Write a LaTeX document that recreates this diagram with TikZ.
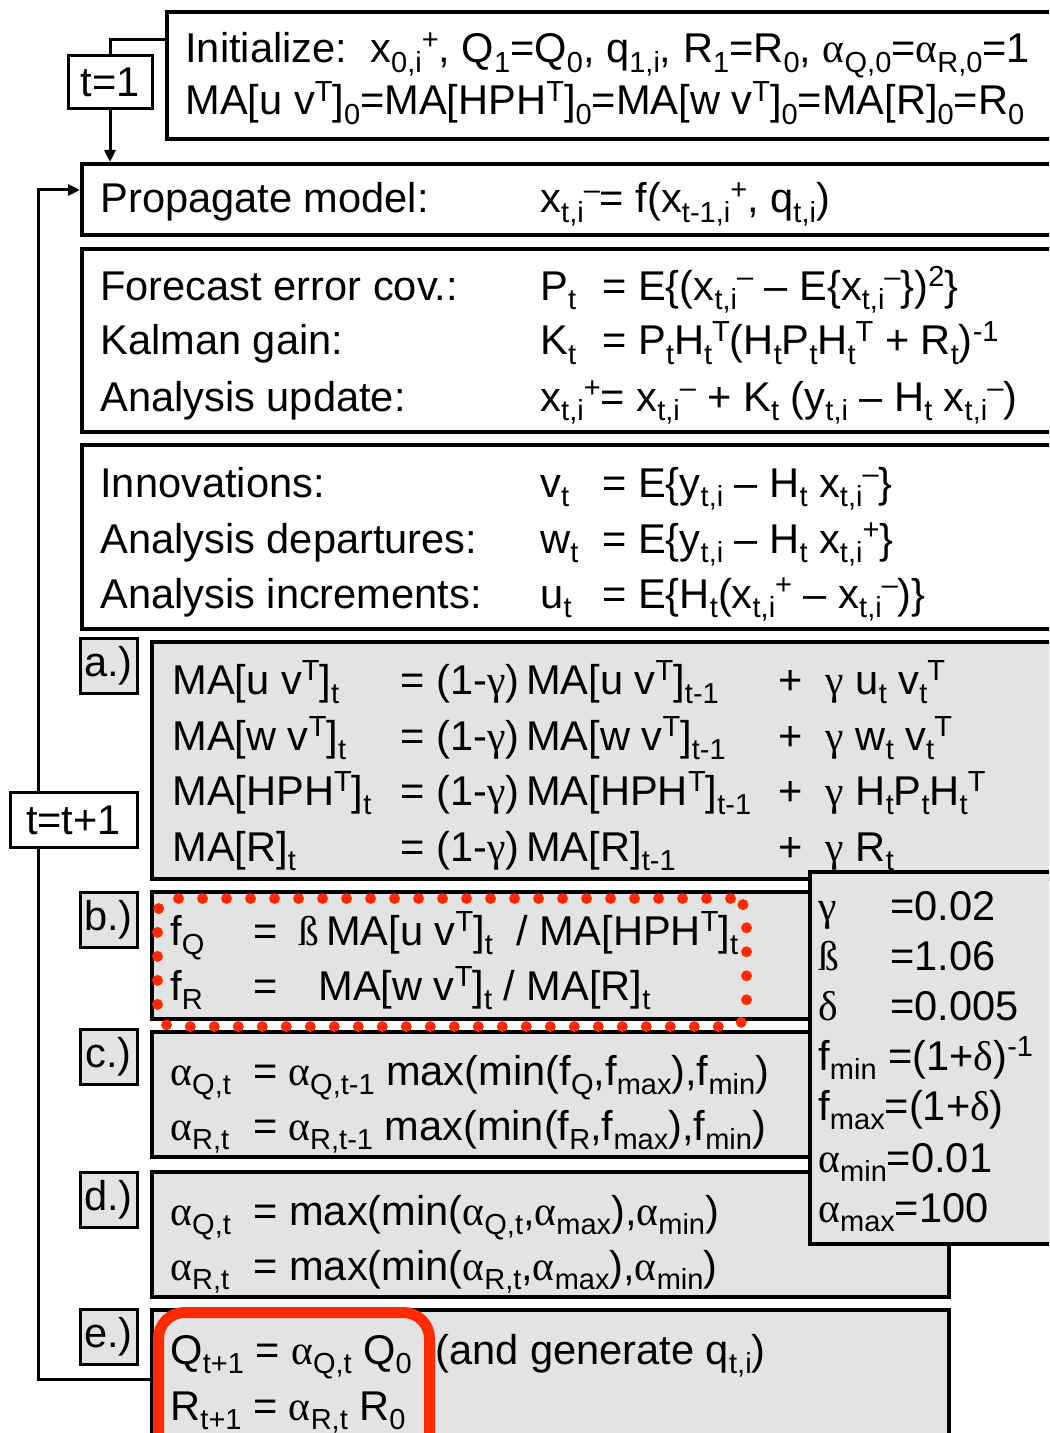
\documentclass[tikz,border=0pt]{standalone}
\usepackage{fontspec}
\setmainfont{Liberation Sans}
\newfontfamily\grk{Liberation Serif}
\usetikzlibrary{arrows.meta}
\definecolor{boxgray}{HTML}{E3E3E3}
\definecolor{hlred}{HTML}{FF2A00}
\newcommand\subfnt{\fontsize{14.5}{15}\selectfont}
\newcommand\xsb[1]{\raisebox{-0.22em}{\subfnt #1}}
\newcommand\xsp[1]{\raisebox{0.33em}{\subfnt #1}}
\newcommand\xsbp[2]{\xsb{#1}\xsp{#2}}
\newcommand\gA{{\grk α}}
\newcommand\gG{{\grk γ}}
\newcommand\gB{{\grk ß}}
\newcommand\gD{{\grk δ}}
\begin{document}
\begin{tikzpicture}[x=0.5pt,y=-0.5pt,
  txt/.style={anchor=base west, inner sep=0pt, font=\fontsize{20.8}{25}\selectfont},
  frame/.style={draw, line width=1.8pt, anchor=north west, inner sep=0pt},
  gframe/.style={frame, fill=boxgray},
  lab/.style={draw, line width=1.5pt, fill=boxgray, inner sep=0pt, minimum width=28.5pt, minimum height=27.5pt, font=\fontsize{20.8}{25}\selectfont},
  wlab/.style={lab, fill=white},
  conn/.style={line width=1.5pt},
  tip/.style={-{Triangle[length=6pt,width=5.5pt]}},
  dotbox/.style={draw=hlred, line width=5.5pt, line cap=round, dash pattern=on 0pt off 12pt, rounded corners=8pt, anchor=north west, inner sep=0pt},
  redbox/.style={draw=hlred, line width=5.5pt, rounded corners=13pt, anchor=north west, inner sep=0pt}
]
\useasboundingbox (0,0) rectangle (1049,1433);
\clip (0,0) rectangle (1049,1433);
\fill[white] (0,0) rectangle (1049,1433);

% frames
\node[frame, minimum width=447.5pt, minimum height=63.5pt] (init) at (165,10) {};
\node[frame, minimum width=490pt, minimum height=35.5pt] (prop) at (80,162) {};
\node[frame, minimum width=490pt, minimum height=91.5pt] (fc) at (80,247) {};
\node[frame, minimum width=490pt, minimum height=92pt] (inn) at (80,443) {};
\node[gframe, minimum width=455pt, minimum height=118.5pt] (aBox) at (150,640) {};
\node[gframe, minimum width=329pt, minimum height=63.5pt] (bBox) at (150,890) {};
\node[gframe, minimum width=329pt, minimum height=62.5pt] (cBox) at (150,1030) {};
\node[gframe, minimum width=398.5pt, minimum height=62.5pt] (dBox) at (150,1170) {};
\node[gframe, minimum width=398.5pt, minimum height=70pt] (eBox) at (150,1308) {};
\node[gframe, minimum width=130pt, minimum height=186pt] (par) at (808,870) {};

% labels
\node[lab] (la) at (108.5,666) {a.)};
\node[lab] (lb) at (108.5,920) {b.)};
\node[lab] (lc) at (108.5,1057) {c.)};
\node[lab] (ld) at (108.5,1200) {d.)};
\node[lab] (le) at (108.5,1337) {e.)};

% connectors
\node[wlab, minimum width=42pt, minimum height=26.5pt] (t1) at (110,82) {t=1};
\coordinate (initIn) at (165,40);
\draw[conn] (t1.north) |- (initIn);
\draw[conn,tip] (t1.south) -- (t1.south |- prop.north);
\coordinate (loopTop) at (38,190);
\draw[conn,tip] (eBox.west) -| (loopTop) -- (prop.west |- loopTop);
\node[wlab, minimum width=63.5pt, minimum height=27.5pt] (tt) at (73.5,820) {t=t+1};

% init text
\node[txt] (i1) at (185,63) {Initialize:\ \ x\xsbp{0,i}{+}, Q\xsb{1}=Q\xsb{0}, q\xsb{1,i}, R\xsb{1}=R\xsb{0}, \gA\xsb{Q,0}=\gA\xsb{R,0}=1};
\node[txt] (i2) at (185,115) {MA[u v\xsp{T}]\xsb{0}=MA[HPH\xsp{T}]\xsb{0}=MA[w v\xsp{T}]\xsb{0}=MA[R]\xsb{0}=R\xsb{0}};

% propagate
\node[txt] (p1) at (100,213) {Propagate model:};
\node[txt] (p2) at (540,213) {x\xsbp{t,i}{–}= f(x\xsbp{t-1,i}{+}, q\xsb{t,i})};

% forecast
\node[txt] (f1) at (100,300) {Forecast error cov.:};
\node[txt] (f2) at (100,355) {Kalman gain:};
\node[txt] (f3) at (100,411) {Analysis update:};
\node[txt] (f1a) at (540,300) {P\xsb{t}};
\node[txt] (f1b) at (602,300) {= E\{(x\xsbp{t,i}{–} – E\{x\xsbp{t,i}{–}\})\xsp{2}\}};
\node[txt] (f2a) at (540,355) {K\xsb{t}};
\node[txt] (f2b) at (602,355) {= P\xsb{t}H\xsbp{t}{T}(H\xsb{t}P\xsb{t}H\xsbp{t}{T} + R\xsb{t})\xsp{-1}};
\node[txt] (f3a) at (540,411) {x\xsbp{t,i}{+}= x\xsbp{t,i}{–} + K\xsb{t} (y\xsb{t,i} – H\xsb{t} x\xsbp{t,i}{–})};

% innovations
\node[txt] (n1) at (100,497) {Innovations:};
\node[txt] (n2) at (100,553) {Analysis departures:};
\node[txt] (n3) at (100,608) {Analysis increments:};
\node[txt] (n1a) at (540,497) {v\xsb{t}};
\node[txt] (n1b) at (602,497) {= E\{y\xsb{t,i} – H\xsb{t} x\xsbp{t,i}{–}\}};
\node[txt] (n2a) at (540,553) {w\xsb{t}};
\node[txt] (n2b) at (602,553) {= E\{y\xsb{t,i} – H\xsb{t} x\xsbp{t,i}{+}\}};
\node[txt] (n3a) at (540,608) {u\xsb{t}};
\node[txt] (n3b) at (602,608) {= E\{H\xsb{t}(x\xsbp{t,i}{+} – x\xsbp{t,i}{–})\}};

% a.)
\node[txt] (a1) at (172,694) {MA[u v\xsp{T}]\xsb{t}};
\node[txt] (a2) at (172,750) {MA[w v\xsp{T}]\xsb{t}};
\node[txt] (a3) at (172,805) {MA[HPH\xsp{T}]\xsb{t}};
\node[txt] (a4) at (172,861) {MA[R]\xsb{t}};
\node[txt] (a1b) at (400,694) {= (1-\gG)\,MA[u v\xsp{T}]\xsb{t-1}};
\node[txt] (a2b) at (400,750) {= (1-\gG)\,MA[w v\xsp{T}]\xsb{t-1}};
\node[txt] (a3b) at (400,805) {= (1-\gG)\,MA[HPH\xsp{T}]\xsb{t-1}};
\node[txt] (a4b) at (400,861) {= (1-\gG)\,MA[R]\xsb{t-1}};
\node[txt] (a1c) at (778,694) {+\ \ \gG{} u\xsb{t} v\xsbp{t}{T}};
\node[txt] (a2c) at (778,750) {+\ \ \gG{} w\xsb{t} v\xsbp{t}{T}};
\node[txt] (a3c) at (778,805) {+\ \ \gG{} H\xsb{t}P\xsb{t}H\xsbp{t}{T}};
\node[txt] (a4c) at (778,861) {+\ \ \gG{} R\xsb{t}};

% b.)
\node[txt] (b1) at (170,945) {f\xsb{Q}};
\node[txt] (b2) at (170,1000) {f\xsb{R}};
\node[txt] (b1e) at (253,945) {=};
\node[txt] (b2e) at (253,1000) {=};
\node[txt] (b1b) at (298,945) {\gB\,MA[u v\xsp{T}]\xsb{t}\ \ / MA[HPH\xsp{T}]\xsb{t}};
\node[txt] (b2b) at (318,1000) {MA[w v\xsp{T}]\xsb{t} / MA[R]\xsb{t}};

% c.)
\node[txt] (c1) at (170,1085) {\gA\xsb{Q,t}};
\node[txt] (c2) at (170,1140) {\gA\xsb{R,t}};
\node[txt] (c1e) at (253,1085) {=};
\node[txt] (c2e) at (253,1140) {=};
\node[txt] (c1b) at (288,1085) {\gA\xsb{Q,t-1} max(min(f\xsb{Q},f\xsb{max}),f\xsb{min})};
\node[txt] (c2b) at (288,1140) {\gA\xsb{R,t-1} max(min(f\xsb{R},f\xsb{max}),f\xsb{min})};

% d.)
\node[txt] (d1) at (170,1225) {\gA\xsb{Q,t}};
\node[txt] (d2) at (170,1280) {\gA\xsb{R,t}};
\node[txt] (d1b) at (253,1225) {= max(min(\gA\xsb{Q,t},\gA\xsb{max}),\gA\xsb{min})};
\node[txt] (d2b) at (253,1280) {= max(min(\gA\xsb{R,t},\gA\xsb{max}),\gA\xsb{min})};

% e.)
\node[txt] (e1) at (170,1364) {Q\xsb{t+1} = \gA\xsb{Q,t} Q\xsb{0}};
\node[txt] (e2) at (170,1420) {R\xsb{t+1} = \gA\xsb{R,t} R\xsb{0}};
\node[txt] (e3) at (435,1364) {(and generate q\xsb{t,i})};

% parameters
\node[txt] (q1) at (818,920) {\gG};
\node[txt] (q1v) at (890,920) {=0.02};
\node[txt] (q2) at (818,970) {\gB};
\node[txt] (q2v) at (890,970) {=1.06};
\node[txt] (q3) at (818,1020) {\gD};
\node[txt] (q3v) at (890,1020) {=0.005};
\node[txt] (q4) at (818,1070) {f\xsb{min} =(1+\gD)\xsp{-1}};
\node[txt] (q5) at (818,1120) {f\xsb{max}=(1+\gD)};
\node[txt] (q6) at (818,1172) {\gA\xsb{min}=0.01};
\node[txt] (q7) at (818,1222) {\gA\xsb{max}=100};

% highlights
\node[dotbox, minimum width=294.5pt, minimum height=64pt] (hlB) at (152,893) {};
\node[redbox, minimum width=135.5pt, minimum height=80pt] (hlE) at (153,1307) {};
\end{tikzpicture}
\end{document}
